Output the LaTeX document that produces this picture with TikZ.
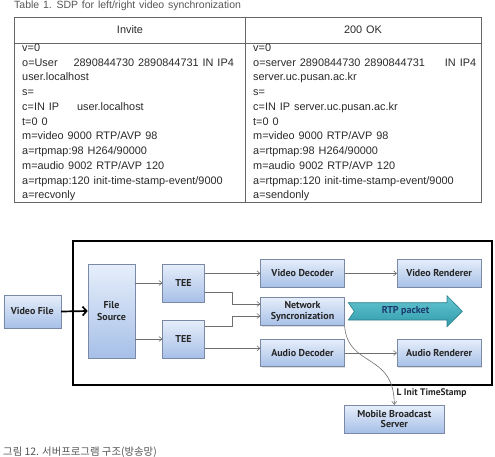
\documentclass[tikz,border=0pt]{standalone}
\usepackage{fontspec}
\setmainfont{Liberation Sans}
\newfontfamily\sdpfont{Liberation Sans}[WordSpace=1.3]
\newfontfamily\blockfont{PT Sans}
\newfontfamily\krfont{Noto Sans CJK KR}
\usepackage{xcolor}
\usepackage{tikz}
\usetikzlibrary{positioning,calc,arrows.meta,shadows}
\definecolor{boxtop}{HTML}{E6EEFA}
\definecolor{boxbottom}{HTML}{A7C0E8}
\definecolor{boxline}{HTML}{7A8AA6}
\definecolor{flowgray}{HTML}{6E6E6E}
\definecolor{sdpgray}{HTML}{2A2A2A}
\definecolor{capgray}{HTML}{555555}
\definecolor{rtptop}{HTML}{66C6D2}
\definecolor{rtpbottom}{HTML}{2F9BAA}
\definecolor{rtpline}{HTML}{2C7E8C}
\definecolor{rtptext}{HTML}{1D3A6E}

\begin{document}
\begin{tikzpicture}[x=1pt, y=-1pt,
    sdptext/.style={font=\sdpfont\fontsize{10.9}{13}\selectfont, text=sdpgray, inner sep=0pt, anchor=base west},
    tableline/.style={draw=black!60, line width=0.8pt},
    blockbox/.style={draw=boxline, line width=0.6pt, top color=boxtop, bottom color=boxbottom,
        font=\blockfont\bfseries\fontsize{10}{11.8}\selectfont, text=black!85, align=center, inner sep=0pt,
        drop shadow={opacity=0.25, shadow xshift=1pt, shadow yshift=-1pt}},
    widebox/.style={blockbox, minimum width=83.6pt, minimum height=28pt},
    flow/.style={draw=flowgray, line width=0.6pt, -{Straight Barb[length=3pt,width=5pt]}},
    thickflow/.style={draw=black, line width=1.7pt, -{Straight Barb[length=4pt,width=9pt]}},
]
\useasboundingbox (0,0) rectangle (495,456);

% caption of the table
\node[sdptext, text=capgray, font=\sdpfont\fontsize{10.5}{13}\selectfont] (tabcap) at (14,8.6) {Table 1. SDP for left/right video synchronization};

% SDP table
\draw[tableline] (14,17.3) rectangle (481,202.7);
\draw[tableline] (14,43) -- (481,43);
\draw[tableline] (245,17.3) -- (245,202.7);
\node[sdptext, anchor=center] (hinv) at (130,29.5) {Invite};
\node[sdptext, anchor=center] (hok) at (363,29.5) {200 OK};

\foreach \txt [count=\i] in {v=0, o=User\hspace{12pt} 2890844730 2890844731 IN IP4, user.localhost, s=,
    c=IN IP\hspace{14pt} user.localhost, t=0 0, m=video 9000 RTP/AVP 98, a=rtpmap:98 H264/90000,
    m=audio 9002 RTP/AVP 120, a=rtpmap:120 init-time-stamp-event/9000, a=recvonly}
    \node[sdptext] (inv\i) at (22,{51.5+14.73*(\i-1)}) {\txt};

\foreach \txt [count=\i] in {v=0, o=server 2890844730 2890844731\hspace{16pt} IN IP4, server.uc.pusan.ac.kr, s=,
    c=IN IP server.uc.pusan.ac.kr, t=0 0, m=video 9000 RTP/AVP 98, a=rtpmap:98 H264/90000,
    m=audio 9002 RTP/AVP 120, a=rtpmap:120 init-time-stamp-event/9000, a=sendonly}
    \node[sdptext] (ok\i) at (253,{51.5+14.73*(\i-1)}) {\txt};

% server program frame
\draw[line width=1.8pt] (73,241) rectangle (492,385);

\node[blockbox, minimum width=57pt, minimum height=33pt] (vfile) at (32.3,311.5) {Video File};
\node[blockbox, minimum width=47pt, minimum height=94pt] (src) at (111.5,311) {File\\Source};
\node[blockbox, minimum width=41.6pt, minimum height=38pt] (teev) at (183.5,283) {TEE};
\node[blockbox, minimum width=41.6pt, minimum height=38pt] (teea) at (183.5,339) {TEE};
\node[widebox] (vdec) at (302.5,273.3) {Video Decoder};
\node[widebox, right=52.4pt of vdec] (vren) {Video Renderer};
\node[widebox, minimum height=28.4pt] (sync) at (302.5,311.5) {Network\\Syncronization};
\node[widebox, minimum height=27.4pt] (adec) at (302.5,353) {Audio Decoder};
\node[widebox, minimum height=27.4pt, right=52.4pt of adec] (aren) {Audio Renderer};
\node[blockbox, minimum width=100pt, minimum height=27.7pt, font=\blockfont\bfseries\fontsize{10}{10.8}\selectfont] (mbs) at (394.3,419) {Mobile Broadcast\\Server};

% RTP packet arrow
\draw[draw=rtpline, line width=0.6pt, top color=rtptop, bottom color=rtpbottom]
    (348.3,302.7) -- (447,302.7) -- (447,295.7) -- (462.3,311.3) -- (447,326.7)
    -- (447,320) -- (348.3,320) -- (354.3,311.3) -- cycle;
\node[font=\blockfont\bfseries\fontsize{10}{11}\selectfont, text=rtptext] (rtp) at (405.5,311.3) {RTP packet};

% connectors
\draw[thickflow] (vfile.east) -- (src.west);
\draw[flow] (src.east |- teev) -- (teev.west);
\draw[flow] (src.east |- teea) -- (teea.west);
\draw[flow] (teev.east |- vdec) -- (vdec.west);
\coordinate (tv2) at ([yshift=-9.3pt]teev.east);
\draw[flow] (tv2) -- ++(28,0) |- ([yshift=7.5pt]sync.west);
\coordinate (ta1) at ([yshift=12.3pt]teea.east);
\draw[flow] (ta1) -- ++(28,0) |- ([yshift=-4.5pt]sync.west);
\coordinate (ta2) at ([yshift=-9.3pt]teea.east);
\draw[flow] (ta2) -- (ta2 -| adec.west);
\draw[flow] (vdec.east) -- (vren.west);
\draw[flow] (adec.east) -- (aren.west);
\draw[flow] (sync.south east) .. controls (348,368) and (394,352) .. (mbs.north);
\node[font=\blockfont\bfseries\fontsize{9.5}{10}\selectfont, text=black!85, anchor=west, inner sep=0pt] (tslabel) at (396.5,393.3) {L Init TimeStamp};

% figure caption
\node[font=\krfont\fontsize{10.4}{12}\selectfont, text=capgray, anchor=base west, inner sep=0pt] (figcap) at (3,455) {그림 12. 서버프로그램 구조(방송망)};
\end{tikzpicture}
\end{document}
